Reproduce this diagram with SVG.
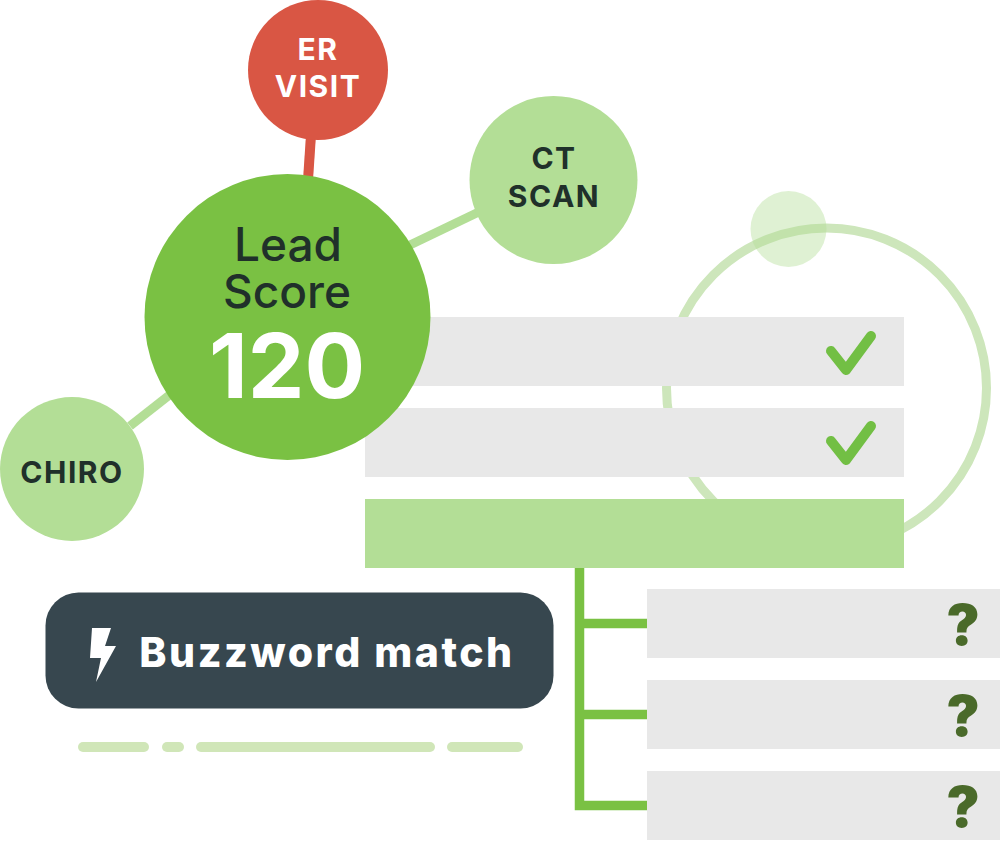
<svg xmlns="http://www.w3.org/2000/svg" width="1000" height="841" viewBox="0 0 1000 841">
<style>
text{font-family:"Inter","Liberation Sans",sans-serif;text-anchor:middle}
.dk{fill:#20302a}
.tag{font-size:30px;font-weight:700;letter-spacing:1.500px}
.row{fill:#e8e8e8}
.lt{fill:#b3de96}
.chk{fill:none;stroke:#72bf44;stroke-width:10;stroke-linecap:round;stroke-linejoin:round}
.q{font-size:56px;font-weight:900;fill:#4a6a2a}
.dash{fill:#d0e6b8}
</style>
<rect width="1000" height="841" fill="#fff"/>
<g id="ring-deco">
<circle cx="826.500" cy="388" r="160" fill="none" stroke="#cde6bb" stroke-width="9"/>
<circle cx="788.500" cy="229" r="38" fill="#b3de96" fill-opacity="0.42"/>
</g>
<g id="connectors">
<line x1="308" y1="180" x2="311" y2="135" stroke="#d95644" stroke-width="10"/>
<line x1="410" y1="245" x2="485" y2="209" stroke="#b3de96" stroke-width="9"/>
<line x1="130" y1="426" x2="172" y2="393" stroke="#b3de96" stroke-width="9"/>
<path d="M579.500 568V805.500H647M579.500 623.500H647M579.500 714.500H647" fill="none" stroke="#7ac143" stroke-width="9.500"/>
</g>
<g id="row-1"><rect class="row" x="365" y="317" width="539" height="69"/><polyline class="chk" points="831,351 846,370 871,336"/></g>
<g id="row-2"><rect class="row" x="365" y="408" width="539" height="69"/><polyline class="chk" points="831,441 846,460 871,426"/></g>
<g id="row-3"><rect class="lt" x="365" y="499" width="539" height="69"/></g>
<g id="node-er"><circle cx="318" cy="70" r="70" fill="#d95644"/><text class="tag" x="318" y="60" fill="#fff">ER</text><text class="tag" x="318" y="97" fill="#fff">VISIT</text></g>
<g id="node-ct"><circle cx="553.500" cy="180" r="84" class="lt"/><text class="tag dk" x="554" y="169">CT</text><text class="tag dk" x="554" y="207">SCAN</text></g>
<g id="node-chiro"><circle cx="72" cy="469" r="72" class="lt"/><text class="tag dk" x="72" y="483" letter-spacing="2.500">CHIRO</text></g>
<g id="node-score"><circle cx="287.500" cy="317" r="143" fill="#7ac143"/>
<text class="dk" x="288" y="261" font-size="46" font-weight="500">Lead</text>
<text class="dk" x="287" y="308" font-size="46" font-weight="500">Score</text>
<text x="287" y="398" font-size="90" font-weight="700" fill="#fff">120</text></g>
<g id="button"><rect x="45.500" y="592.500" width="508" height="116" rx="33" fill="#37474f"/>
<polygon points="92,628 111,628 105,646 116,646 96,682 101,658 90,658" fill="#fff"/>
<text x="327" y="667" font-size="41" font-weight="800" fill="#fff" letter-spacing="2.500">Buzzword match</text></g>
<g id="dashes"><rect class="dash" x="78" y="742" width="71" height="10" rx="5"/><rect class="dash" x="162" y="742" width="22" height="10" rx="5"/><rect class="dash" x="196" y="742" width="239" height="10" rx="5"/><rect class="dash" x="447" y="742" width="76" height="10" rx="5"/></g>
<g id="row-a"><rect class="row" x="647" y="589" width="353" height="69"/><text class="q" x="963" y="645">?</text></g>
<g id="row-b"><rect class="row" x="647" y="680" width="353" height="69"/><text class="q" x="963" y="736">?</text></g>
<g id="row-c"><rect class="row" x="647" y="771" width="353" height="69"/><text class="q" x="963" y="827">?</text></g>
</svg>
